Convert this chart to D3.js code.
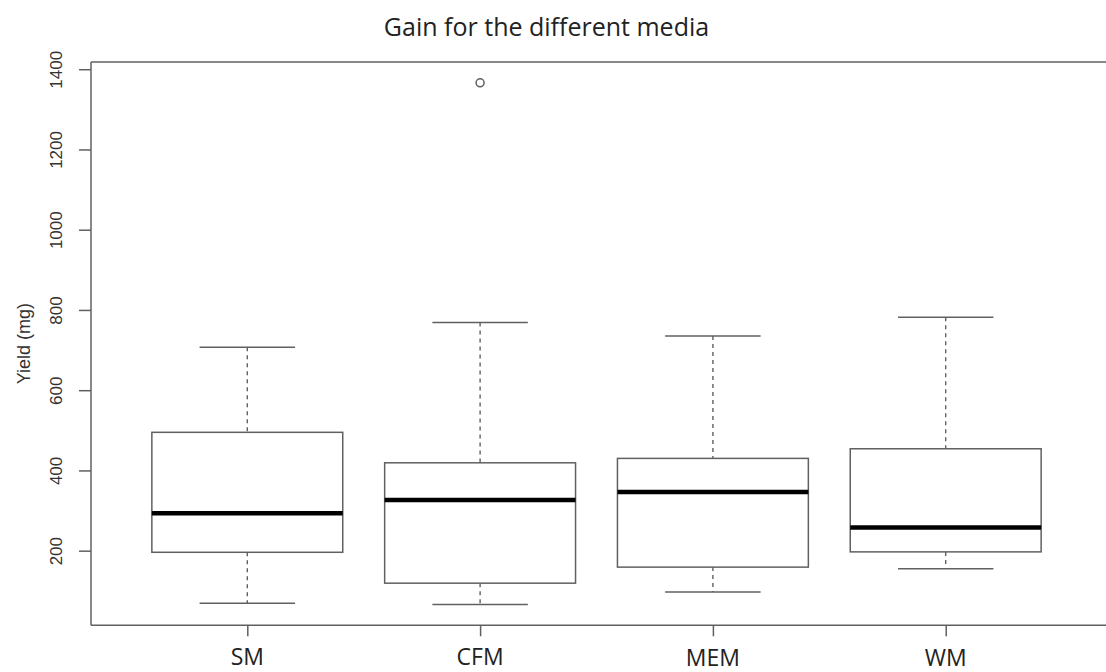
<!DOCTYPE html>
<html>
<head>
<meta charset="utf-8">
<script src="https://cdn.jsdelivr.net/npm/d3@7"></script>
<style>
  html, body { margin: 0; padding: 0; background: #fff; }
  svg { display: block; }
</style>
</head>
<body>
<svg id="chart" width="1106" height="672"></svg>
<script>
// Growth media and five-number summaries of yield (mg)
const media = ["SM", "CFM", "MEM", "WM"];
const whiskerLow  = [69, 66, 97, 155];
const quartile1   = [196, 119, 159, 197];
const medians     = [293, 326, 346, 258];
const quartile3   = [495, 419, 430, 454];
const whiskerHigh = [707, 769, 735, 782];
// Points beyond the whiskers: [medium index, value]
const outliers = [[1, 1366]];
const yTicks = [200, 400, 600, 800, 1000, 1200, 1400];

const svg = d3.select("#chart");
const W = 1106, H = 672;
const plotLeft = 91, plotTop = 62, plotBottom = 625.3;
const lineCol = "#606060";

// y range padded by 4% of the data span, like base R graphics
const allVals = whiskerLow.concat(whiskerHigh, outliers.map(d => d[1]));
const lo = d3.min(allVals), hi = d3.max(allVals);
const pad = (hi - lo) * 0.04;
const y = d3.scaleLinear().domain([lo - pad, hi + pad]).range([plotBottom, plotTop]);

const x = d3.scalePoint().domain(media).range([247.3, 945.7]);
const step = x.step();
const halfBox = step * 0.41;
const halfCap = halfBox / 2;

const boxes = media.map((m, i) => ({
  name: m, lo: whiskerLow[i], q1: quartile1[i], med: medians[i],
  q3: quartile3[i], hi: whiskerHigh[i]
}));

// Frame: left, top and bottom edges (right edge falls outside the page)
const frame = svg.append("g").attr("stroke", lineCol).attr("stroke-width", 1.5).attr("fill", "none");
frame.append("line").attr("x1", plotLeft).attr("x2", plotLeft).attr("y1", plotTop).attr("y2", plotBottom);
frame.append("line").attr("x1", plotLeft).attr("x2", W).attr("y1", plotTop).attr("y2", plotTop);
frame.append("line").attr("x1", plotLeft).attr("x2", W).attr("y1", plotBottom).attr("y2", plotBottom);

// Y axis
const yAxis = svg.append("g")
  .attr("transform", `translate(${plotLeft},0)`)
  .call(d3.axisLeft(y).tickValues(yTicks).tickSize(12).tickFormat(d3.format("d")));
yAxis.select(".domain").remove();
yAxis.selectAll(".tick line").attr("stroke", lineCol).attr("stroke-width", 1.5);
yAxis.selectAll(".tick text")
  .attr("x", null).attr("dy", null)
  .attr("text-anchor", "middle")
  .attr("transform", "translate(-29,0) rotate(-90)")
  .attr("font-family", "'Liberation Sans', Arial, sans-serif")
  .attr("font-size", 17)
  .attr("fill", "#333");

// X axis
const xAxis = svg.append("g")
  .attr("transform", `translate(0,${plotBottom})`)
  .call(d3.axisBottom(x).tickSize(11).tickFormat(""));
xAxis.select(".domain").remove();
xAxis.selectAll(".tick line").attr("stroke", lineCol).attr("stroke-width", 1.5);

// Category labels
const labelDrop = { MEM: 1.5, WM: 1.5 };
svg.append("g").selectAll("text").data(media).join("text")
  .attr("x", d => x(d))
  .attr("y", d => 664.5 + (labelDrop[d] || 0))
  .attr("text-anchor", "middle")
  .attr("font-family", "'Open Sans', sans-serif")
  .attr("font-size", 23)
  .attr("fill", "#222")
  .text(d => d);

// Boxes
const g = svg.append("g");
const bx = g.selectAll("g.box").data(boxes).join("g").attr("class", "box");

bx.append("line")
  .attr("x1", d => x(d.name)).attr("x2", d => x(d.name))
  .attr("y1", d => y(d.hi)).attr("y2", d => y(d.q3))
  .attr("stroke", lineCol).attr("stroke-width", 1.4).attr("stroke-dasharray", "4,4");
bx.append("line")
  .attr("x1", d => x(d.name)).attr("x2", d => x(d.name))
  .attr("y1", d => y(d.q1)).attr("y2", d => y(d.lo))
  .attr("stroke", lineCol).attr("stroke-width", 1.4).attr("stroke-dasharray", "4,4");

bx.append("line")
  .attr("x1", d => x(d.name) - halfCap).attr("x2", d => x(d.name) + halfCap)
  .attr("y1", d => y(d.hi)).attr("y2", d => y(d.hi))
  .attr("stroke", lineCol).attr("stroke-width", 1.5);
bx.append("line")
  .attr("x1", d => x(d.name) - halfCap).attr("x2", d => x(d.name) + halfCap)
  .attr("y1", d => y(d.lo)).attr("y2", d => y(d.lo))
  .attr("stroke", lineCol).attr("stroke-width", 1.5);

bx.append("rect")
  .attr("x", d => x(d.name) - halfBox)
  .attr("width", halfBox * 2)
  .attr("y", d => y(d.q3))
  .attr("height", d => y(d.q1) - y(d.q3))
  .attr("fill", "#fff")
  .attr("stroke", lineCol).attr("stroke-width", 1.5);

bx.append("line")
  .attr("x1", d => x(d.name) - halfBox).attr("x2", d => x(d.name) + halfBox)
  .attr("y1", d => y(d.med)).attr("y2", d => y(d.med))
  .attr("stroke", "#000").attr("stroke-width", 4.5);

// Outliers
g.selectAll("circle").data(outliers).join("circle")
  .attr("cx", d => x(media[d[0]]))
  .attr("cy", d => y(d[1]))
  .attr("r", 4)
  .attr("fill", "none")
  .attr("stroke", lineCol).attr("stroke-width", 1.5);

// Title
svg.append("text")
  .attr("x", 546.5).attr("y", 36)
  .attr("text-anchor", "middle")
  .attr("font-family", "'Open Sans', sans-serif")
  .attr("font-size", 25)
  .attr("fill", "#222")
  .text("Gain for the different media");

// Y axis title
svg.append("text")
  .attr("transform", `translate(30,${(plotTop + plotBottom) / 2}) rotate(-90)`)
  .attr("text-anchor", "middle")
  .attr("font-family", "'Liberation Sans', Arial, sans-serif")
  .attr("font-size", 18)
  .attr("fill", "#333")
  .text("Yield (mg)");
</script>
</body>
</html>
